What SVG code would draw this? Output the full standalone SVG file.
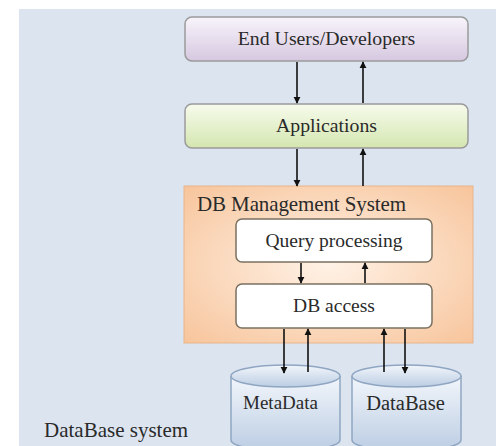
<svg xmlns="http://www.w3.org/2000/svg" width="496" height="446" viewBox="0 0 496 446">
<defs>
<linearGradient id="gPurple" x1="0" y1="0" x2="0" y2="1"><stop offset="0" stop-color="#f8f4fb"/><stop offset="1" stop-color="#d6c8e0"/></linearGradient>
<linearGradient id="gGreen" x1="0" y1="0" x2="0" y2="1"><stop offset="0" stop-color="#f7fbec"/><stop offset="1" stop-color="#d4e6b0"/></linearGradient>
<radialGradient id="gOrange" cx="0.5" cy="0.5" r="0.7"><stop offset="0" stop-color="#fff2e6"/><stop offset="1" stop-color="#f7c59c"/></radialGradient>
<linearGradient id="gCyl" x1="0" y1="0" x2="0" y2="1"><stop offset="0" stop-color="#f2f6fb"/><stop offset="1" stop-color="#bccde3"/></linearGradient>
<marker id="ah" viewBox="0 0 10 10" refX="9" refY="5" markerWidth="4.5" markerHeight="4.5" orient="auto"><path d="M0,0 L10,5 L0,10 z" fill="#111"/></marker>
</defs>
<style>
.t{font-family:"Liberation Serif","DejaVu Serif","Times New Roman",serif;fill:#2a2a2a;}
.box{stroke:#9a9a9a;stroke-width:1.5;}
.inner{fill:#fff;stroke:#7a7060;stroke-width:1.5;}
.ln{stroke:#111;stroke-width:1.6;fill:none;marker-end:url(#ah);}
.cyl{fill:url(#gCyl);stroke:#8fa6c2;stroke-width:1.5;}
</style>
<rect x="0" y="0" width="496" height="446" fill="#fff"/>
<rect x="19" y="9" width="477" height="437" fill="#dce4f0"/>
<g id="endusers">
<rect class="box" x="185" y="17" width="283" height="44" rx="7" fill="url(#gPurple)"/>
<text class="t" x="326.5" y="45" font-size="19.8" text-anchor="middle">End Users/Developers</text>
</g>
<g id="applications">
<rect class="box" x="185" y="104" width="283" height="44" rx="7" fill="url(#gGreen)"/>
<text class="t" x="326.5" y="132" font-size="19.8" text-anchor="middle">Applications</text>
</g>
<g id="dbms">
<rect x="184" y="186" width="289" height="157" fill="url(#gOrange)" stroke="#e8b48a" stroke-width="1"/>
<text class="t" x="197" y="211" font-size="21" textLength="209">DB Management System</text>
</g>
<g id="query">
<rect class="inner" x="236" y="219" width="196" height="43" rx="6"/>
<text class="t" x="334" y="247" font-size="19.5" text-anchor="middle">Query processing</text>
</g>
<g id="dbaccess">
<rect class="inner" x="236" y="284" width="196" height="44" rx="6"/>
<text class="t" x="334" y="312" font-size="19.5" text-anchor="middle">DB access</text>
</g>
<g id="metadata">
<path class="cyl" d="M231,376 L231,440 A54.5,11 0 0 0 340,440 L340,376"/>
<ellipse class="cyl" cx="285.5" cy="376" rx="54.5" ry="11" fill="#f4f7fb"/>
<text class="t" x="280.5" y="409" font-size="19" text-anchor="middle">MetaData</text>
</g>
<g id="database">
<path class="cyl" d="M352,376 L352,440 A54.5,11 0 0 0 461,440 L461,376"/>
<ellipse class="cyl" cx="406.5" cy="376" rx="54.5" ry="11" fill="#f4f7fb"/>
<text class="t" x="405.5" y="410" font-size="20.5" text-anchor="middle">DataBase</text>
</g>
<g id="label">
<text class="t" x="44" y="437" font-size="21">DataBase system</text>
</g>
<g id="connectors">
<line class="ln" x1="297" y1="62" x2="297" y2="103"/>
<line class="ln" x1="363" y1="103" x2="363" y2="62"/>
<line class="ln" x1="297" y1="149" x2="297" y2="186"/>
<line class="ln" x1="363" y1="186" x2="363" y2="149"/>
<line class="ln" x1="301" y1="263" x2="301" y2="283"/>
<line class="ln" x1="365" y1="283" x2="365" y2="263"/>
<line class="ln" x1="284" y1="329" x2="284" y2="373"/>
<line class="ln" x1="308" y1="372" x2="308" y2="329"/>
<line class="ln" x1="384" y1="372" x2="384" y2="329"/>
<line class="ln" x1="405" y1="329" x2="405" y2="373"/>
</g>
</svg>
